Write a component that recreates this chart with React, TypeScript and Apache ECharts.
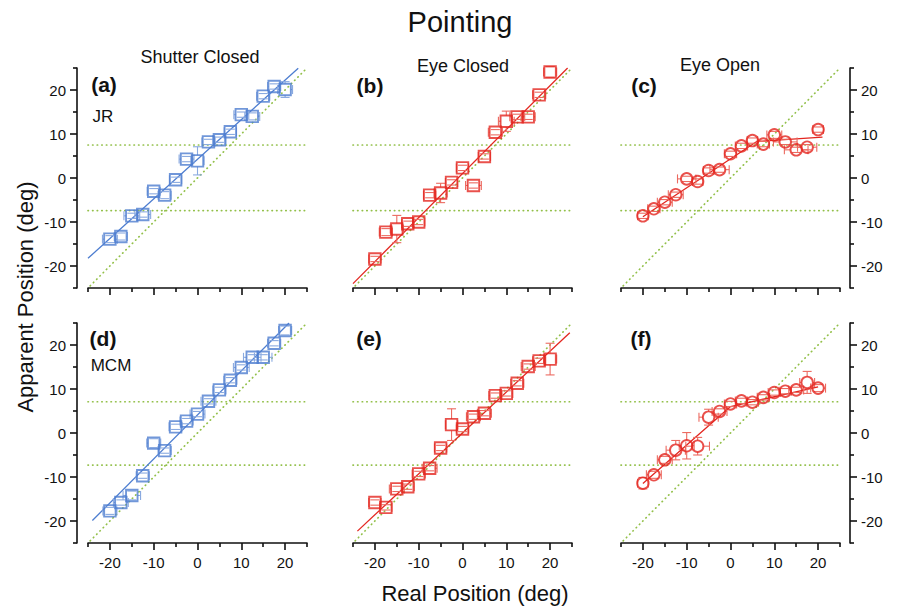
import React, { useEffect, useRef } from 'react';
import * as echarts from 'echarts';

// ---------- data ----------
const realPos = [-20, -17.5, -15, -12.5, -10, -7.5, -5, -2.5, 0, 2.5, 5, 7.5, 10, 12.5, 15, 17.5, 20];

// JR
const apparentA = [-13.9, -13.3, -8.6, -8.3, -3.0, -3.9, -0.4, 4.3, 3.9, 8.2, 8.7, 10.5, 14.4, 14.0, 18.6, 20.8, 20.1];
const apparentB = [-18.4, -12.3, -11.6, -10.4, -10.0, -3.9, -3.4, -1.0, 2.3, -1.7, 4.9, 10.4, 12.9, 13.9, 13.9, 18.9, 24.1];
const apparentC = [-8.6, -7.0, -5.5, -3.8, -0.2, -0.8, 1.7, 1.9, 5.5, 7.3, 8.5, 7.7, 9.8, 8.2, 6.4, 7.0, 11.0];
// MCM
const apparentD = [-17.7, -15.8, -14.2, -9.7, -2.3, -4.0, 1.4, 2.7, 4.3, 7.2, 9.8, 12.0, 14.9, 17.2, 17.2, 20.4, 23.3];
const apparentE = [-15.8, -16.9, -12.7, -12.2, -9.3, -8.0, -3.4, 1.9, 0.9, 3.7, 4.5, 8.5, 9.0, 11.3, 15.1, 16.4, 16.8];
const apparentF = [-11.4, -9.5, -6.1, -3.9, -2.9, -3.0, 3.6, 4.9, 6.6, 7.3, 7.0, 8.1, 9.2, 9.5, 9.8, 11.5, 10.2];

// vertical error (deg)
const yErrA = [0.8, 0.8, 0.6, 0.6, 0.6, 0.8, 0.6, 0.6, 3.2, 0.6, 0.6, 0.6, 0.6, 0.8, 0.6, 0.6, 1.8];
const yErrB = [0.6, 0.8, 3.1, 0.6, 0.6, 0.6, 2.2, 0.6, 0.6, 0.6, 0.6, 0.6, 2.3, 0.6, 0.6, 0.6, 1.2];
const yErrC = [0.6, 0.6, 0.6, 0.6, 0.6, 0.6, 0.6, 0.6, 0.6, 0.6, 0.6, 0.6, 0.8, 0.6, 0.6, 0.6, 0.6];
const yErrD = [0.8, 0.6, 1.0, 0.6, 1.0, 0.6, 0.6, 0.6, 0.6, 0.6, 0.6, 0.6, 0.6, 0.6, 0.6, 0.6, 1.0];
const yErrE = [0.6, 0.6, 0.6, 0.6, 0.6, 0.6, 0.6, 3.6, 0.6, 0.6, 0.6, 0.6, 0.6, 0.6, 0.6, 0.6, 3.6];
const yErrF = [1.3, 0.8, 0.8, 2.2, 3.0, 2.0, 1.8, 0.6, 0.6, 0.6, 0.6, 0.6, 0.6, 0.6, 0.6, 2.5, 0.8];

// horizontal error (deg)
const xErrA = [1.7, 1.5, 1.8, 1.8, 1.5, 1.5, 1.4, 1.7, 1.5, 1.5, 1.5, 1.4, 1.7, 1.7, 1.5, 1.5, 1.7];
const xErrB = [1.4, 1.5, 1.5, 1.4, 1.4, 1.4, 1.5, 1.4, 1.4, 1.8, 1.4, 1.6, 1.8, 1.7, 1.6, 1.5, 1.5];
const xErrC = [1.2, 1.4, 1.7, 1.7, 2.1, 1.2, 1.2, 2.2, 1.4, 1.4, 1.2, 1.4, 1.7, 2.7, 2.7, 2.2, 1.2];
const xErrD = [1.6, 1.7, 2.0, 1.5, 1.6, 1.5, 1.5, 1.5, 1.7, 1.7, 1.5, 1.5, 1.8, 2.0, 2.0, 1.5, 1.5];
const xErrE = [1.4, 1.4, 1.7, 1.5, 1.5, 1.7, 1.4, 1.4, 1.4, 1.6, 1.6, 1.5, 1.5, 1.5, 1.6, 1.5, 1.5];
const xErrF = [1.2, 1.7, 1.7, 2.2, 1.7, 2.7, 2.2, 1.7, 1.4, 1.4, 1.4, 1.4, 1.4, 1.4, 1.7, 1.7, 1.7];

// fitted lines [x, y]
const fitA = [[-25, -18.25], [23, 24.95]];
const fitB = [[-25, -24], [24, 25]];
const fitC = [[-20, -8.8], [6, 8.3], [21, 9.3]];
const fitD = [[-24, -19.9], [20.9, 25]];
const fitE = [[-24, -22.3], [24.5, 22.8]];
const fitF = [[-20, -11.5], [0, 6], [20, 10.5]];

// reference lines
const identityLine = [[-24.5, -24.5], [24.5, 24.5]];
const hLinesTop = [7.5, -7.4];
const hLinesBottom = [7.1, -7.3];
const lineExtent = [-25, 25];

const axisMin = -25;
const axisMax = 25;

const panelLetters = ['(a)', '(b)', '(c)', '(d)', '(e)', '(f)'];
const columnTitles = ['Shutter Closed', 'Eye Closed', 'Eye Open'];
const subjects = ['JR', 'MCM'];

// ---------- styles ----------
const FONT = '"Liberation Sans", Arial, Helvetica, sans-serif';
const BLUE = '#4d7dd0';
const BLUE_ERR = '#8aaae0';
const RED = '#e3261f';
const RED_ERR = '#ec6a60';
const GREEN = '#93c04a';
const AXIS = '#111111';
const MARKER = 11.5;

type Panel = {
  ys: number[];
  yErr: number[];
  xErr: number[];
  fit: number[][];
  color: string;
  errColor: string;
  symbol: string;
  hLines: number[];
  left: number;
  top: number;
  ySide: 'left' | 'right' | null;
  xLabels: boolean;
};

const COL_LEFT = [88, 353, 621];
const ROW_TOP = [68, 323];
const GRID_W = 219;
const GRID_H = 220;

const panels: Panel[] = [
  { ys: apparentA, yErr: yErrA, xErr: xErrA, fit: fitA, color: BLUE, errColor: BLUE_ERR, symbol: 'rect', hLines: hLinesTop, left: COL_LEFT[0], top: ROW_TOP[0], ySide: 'left', xLabels: false },
  { ys: apparentB, yErr: yErrB, xErr: xErrB, fit: fitB, color: RED, errColor: RED_ERR, symbol: 'rect', hLines: hLinesTop, left: COL_LEFT[1], top: ROW_TOP[0], ySide: null, xLabels: false },
  { ys: apparentC, yErr: yErrC, xErr: xErrC, fit: fitC, color: RED, errColor: RED_ERR, symbol: 'circle', hLines: hLinesTop, left: COL_LEFT[2], top: ROW_TOP[0], ySide: 'right', xLabels: false },
  { ys: apparentD, yErr: yErrD, xErr: xErrD, fit: fitD, color: BLUE, errColor: BLUE_ERR, symbol: 'rect', hLines: hLinesBottom, left: COL_LEFT[0], top: ROW_TOP[1], ySide: 'left', xLabels: true },
  { ys: apparentE, yErr: yErrE, xErr: xErrE, fit: fitE, color: RED, errColor: RED_ERR, symbol: 'rect', hLines: hLinesBottom, left: COL_LEFT[1], top: ROW_TOP[1], ySide: null, xLabels: true },
  { ys: apparentF, yErr: yErrF, xErr: xErrF, fit: fitF, color: RED, errColor: RED_ERR, symbol: 'circle', hLines: hLinesBottom, left: COL_LEFT[2], top: ROW_TOP[1], ySide: 'right', xLabels: true },
];

function tickAxis(gridIndex: number, position: string, offset: number) {
  return {
    type: 'value',
    gridIndex,
    position,
    offset,
    min: axisMin,
    max: axisMax,
    interval: 10,
    axisLine: { show: true, onZero: false, lineStyle: { color: AXIS, width: 1.6 } },
    axisTick: { show: true, inside: false, length: 4, lineStyle: { color: AXIS, width: 1.6 } },
    minorTick: { show: true, splitNumber: 2, length: 7, lineStyle: { color: AXIS, width: 1.6 } },
    axisLabel: { show: false },
    splitLine: { show: false },
    minorSplitLine: { show: false },
  };
}

function labelAxis(gridIndex: number, position: string, offset: number, margin: number) {
  return {
    type: 'value',
    gridIndex,
    position,
    offset,
    min: axisMin,
    max: axisMax,
    interval: 5,
    axisLine: { show: false, onZero: false },
    axisTick: { show: false },
    splitLine: { show: false },
    axisLabel: {
      show: true,
      margin,
      fontSize: 15,
      color: AXIS,
      fontFamily: FONT,
      formatter: (v: number) => (Math.round(v) % 10 === 0 ? String(Math.round(v)) : ''),
    },
  };
}

function buildOption() {
  const grids: any[] = [];
  const xAxes: any[] = [];
  const yAxes: any[] = [];
  const series: any[] = [];

  panels.forEach((p, i) => {
    grids.push({ left: p.left, top: p.top, width: GRID_W, height: GRID_H });
    const xi = xAxes.length;
    xAxes.push(tickAxis(i, 'bottom', 0));
    if (p.xLabels) xAxes.push(labelAxis(i, 'bottom', 0, 12));
    const yi = yAxes.length;
    if (p.ySide) {
      const off = p.ySide === 'left' ? 11 : 10;
      yAxes.push(tickAxis(i, p.ySide, off));
      yAxes.push(labelAxis(i, p.ySide, off, 11));
    } else {
      yAxes.push({ type: 'value', gridIndex: i, min: axisMin, max: axisMax, show: false });
    }

    const dotted = { color: GREEN, width: 1.7, type: [0.4, 4.2], cap: 'round' };
    p.hLines.forEach((h) => {
      series.push({
        type: 'line', xAxisIndex: xi, yAxisIndex: yi, silent: true, symbol: 'none',
        data: lineExtent.map((x) => [x, h]), lineStyle: dotted, z: 1,
      });
    });
    series.push({
      type: 'line', xAxisIndex: xi, yAxisIndex: yi, silent: true, symbol: 'none',
      data: identityLine, lineStyle: dotted, z: 1,
    });
    series.push({
      type: 'line', xAxisIndex: xi, yAxisIndex: yi, silent: true, symbol: 'none',
      data: p.fit, lineStyle: { color: p.color, width: 1.3 }, z: 2,
    });
    const errColor = p.errColor;
    const half = MARKER / 2;
    series.push({
      type: 'custom', xAxisIndex: xi, yAxisIndex: yi, silent: true, z: 3,
      data: realPos.map((x, k) => [x, p.ys[k], p.xErr[k], p.yErr[k]]),
      encode: { x: 0, y: 1 },
      renderItem: (params: any, api: any) => {
        const x = api.value(0);
        const y = api.value(1);
        const xe = api.value(2);
        const ye = api.value(3);
        const c = api.coord([x, y]);
        const t = api.coord([x, y + ye]);
        const b = api.coord([x, y - ye]);
        const l = api.coord([x - xe, y]);
        const r = api.coord([x + xe, y]);
        const cap = 4.5;
        const st = { stroke: errColor, lineWidth: 1.1, fill: null };
        const children: any[] = [];
        if (c[1] - t[1] > half) {
          children.push({ type: 'line', shape: { x1: c[0], y1: c[1] - half, x2: t[0], y2: t[1] }, style: st });
          children.push({ type: 'line', shape: { x1: b[0], y1: c[1] + half, x2: b[0], y2: b[1] }, style: st });
        }
        children.push({ type: 'line', shape: { x1: t[0] - cap, y1: t[1], x2: t[0] + cap, y2: t[1] }, style: st });
        children.push({ type: 'line', shape: { x1: b[0] - cap, y1: b[1], x2: b[0] + cap, y2: b[1] }, style: st });
        if (c[0] - l[0] > half) {
          children.push({ type: 'line', shape: { x1: l[0], y1: l[1], x2: c[0] - half, y2: c[1] }, style: st });
          children.push({ type: 'line', shape: { x1: c[0] + half, y1: c[1], x2: r[0], y2: r[1] }, style: st });
        }
        children.push({ type: 'line', shape: { x1: l[0], y1: l[1] - cap, x2: l[0], y2: l[1] + cap }, style: st });
        children.push({ type: 'line', shape: { x1: r[0], y1: r[1] - cap, x2: r[0], y2: r[1] + cap }, style: st });
        return { type: 'group', children };
      },
    });
    series.push({
      type: 'scatter', xAxisIndex: xi, yAxisIndex: yi, silent: true, z: 4,
      symbol: p.symbol, symbolSize: MARKER,
      itemStyle: { color: 'rgba(255,255,255,0)', borderColor: p.color, borderWidth: 1.9 },
      data: realPos.map((x, k) => [x, p.ys[k]]),
    });
  });

  const txt = (text: string, x: number, y: number, size: number, bold = false, extra: any = {}) => ({
    type: 'text',
    x,
    y,
    silent: true,
    ...extra,
    style: {
      text,
      x: 0,
      y: 0,
      fill: AXIS,
      font: `${bold ? 'bold ' : ''}${size}px ${FONT}`,
      align: 'center',
      verticalAlign: 'middle',
      textAlign: 'center',
      textVerticalAlign: 'middle',
    },
  });

  const graphic = [
    txt('Pointing', 460, 22, 29),
    txt(columnTitles[0], 200, 57, 18),
    txt(columnTitles[1], 463, 66, 18),
    txt(columnTitles[2], 720, 65, 18),
    txt(panelLetters[0], 104, 84, 21, true),
    txt(panelLetters[1], 370, 85, 21, true),
    txt(panelLetters[2], 644, 85, 21, true),
    txt(panelLetters[3], 103, 338, 21, true),
    txt(panelLetters[4], 369, 338, 21, true),
    txt(panelLetters[5], 641, 338, 21, true),
    txt(subjects[0], 103, 116, 17),
    txt(subjects[1], 111, 365, 17),
    txt('Apparent Position (deg)', 25, 297, 22, false, { rotation: Math.PI / 2 }),
    txt('Real Position (deg)', 475, 593, 22),
  ];

  return {
    animation: false,
    backgroundColor: '#ffffff',
    grid: grids,
    xAxis: xAxes,
    yAxis: yAxes,
    series,
    graphic,
  };
}

export default function App() {
  const ref = useRef<HTMLDivElement>(null);
  useEffect(() => {
    document.body.style.margin = '0';
    if (!ref.current) return;
    const chart = echarts.init(ref.current, undefined, { renderer: 'svg' });
    chart.setOption(buildOption() as any);
    return () => {
      chart.dispose();
    };
  }, []);
  return <div ref={ref} style={{ width: 897, height: 608, position: 'absolute', left: 0, top: 0 }} />;
}
